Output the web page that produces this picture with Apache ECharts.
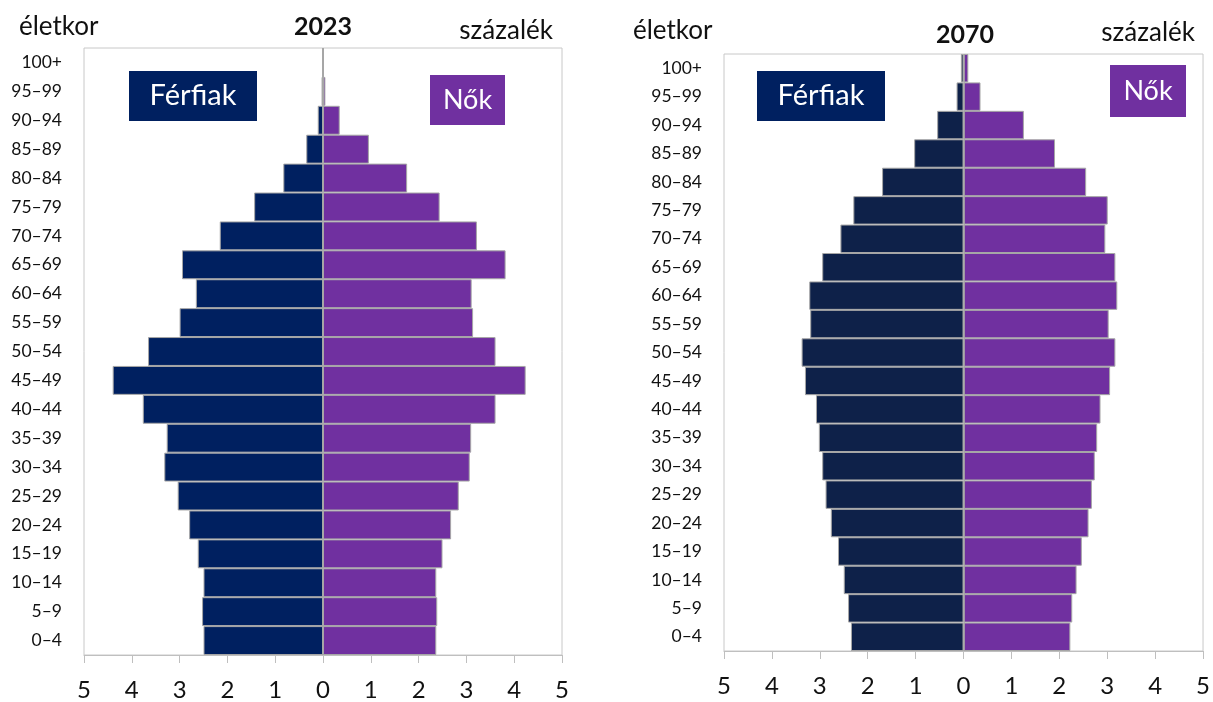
<!DOCTYPE html>
<html>
<head>
<meta charset="utf-8">
<script src="https://cdn.jsdelivr.net/npm/echarts@6/dist/echarts.min.js"></script>
<style>
html,body{margin:0;padding:0;background:#fff;}
#c{width:1213px;height:702px;}
</style>
</head>
<body>
<div id="c"></div>
<script>
const categories = ['0–4','5–9','10–14','15–19','20–24','25–29','30–34','35–39','40–44','45–49','50–54','55–59','60–64','65–69','70–74','75–79','80–84','85–89','90–94','95–99','100+'];
const men2023   = [2.50,2.53,2.50,2.62,2.80,3.04,3.32,3.27,3.77,4.40,3.66,3.00,2.66,2.95,2.16,1.44,0.83,0.35,0.11,0.03,0.005];
const women2023 = [2.37,2.39,2.37,2.50,2.68,2.84,3.07,3.10,3.61,4.24,3.61,3.14,3.11,3.82,3.22,2.44,1.76,0.96,0.35,0.05,0.01];
const men2070   = [2.35,2.41,2.50,2.62,2.77,2.88,2.95,3.02,3.08,3.31,3.38,3.20,3.22,2.95,2.57,2.30,1.70,1.03,0.55,0.145,0.055];
const women2070 = [2.23,2.27,2.36,2.47,2.61,2.68,2.74,2.79,2.86,3.06,3.17,3.03,3.21,3.17,2.96,3.01,2.56,1.91,1.26,0.355,0.10];
const xTicks = [-5,-4,-3,-2,-1,0,1,2,3,4,5];
const yearLabels = ['2023','2070'];
const axisTitle = 'életkor';
const unitTitle = 'százalék';
const legendMen = 'Férfiak';
const legendWomen = 'Nők';

const FONT = 'Lato, "Open Sans", sans-serif';
const chart = echarts.init(document.getElementById('c'), null, {renderer:'canvas'});

function xAxisCfg(gi){
  return {
    gridIndex: gi, type:'value', min: xTicks[0], max: xTicks[xTicks.length-1], interval: 1,
    axisLine:{show:true, onZero:false, lineStyle:{color:'#BFBFBF', width:1}},
    axisTick:{show:true, inside:false, length:8, lineStyle:{color:'#BFBFBF'}},
    splitLine:{show:false},
    axisLabel:{margin:23, fontSize:24, color:'#111', fontFamily:FONT, formatter: v => String(Math.abs(v))}
  };
}
function yAxisCfg(gi){
  return {
    gridIndex: gi, type:'category', data: categories,
    axisLine:{show:false}, axisTick:{show:false}, splitLine:{show:false},
    axisLabel:{margin:22, fontSize:17.5, color:'#111', fontFamily:FONT}
  };
}
const barBorder = {borderColor:'#A6A6A6', borderWidth:1};
function barSeries(gi, values, sign, color, withZero){
  const s = {
    type:'bar', xAxisIndex:gi, yAxisIndex:gi,
    data: values.map(v => sign*v),
    barCategoryGap:'0%', barGap:'-100%',
    itemStyle: Object.assign({color:color}, barBorder),
    silent:true, animation:false
  };
  if(withZero){
    s.markLine = {silent:true, symbol:'none', label:{show:false},
      lineStyle:{color:'#A6A6A6', width:1.5, type:'solid'},
      data:[{xAxis:0}]};
  }
  return s;
}

function legendBox(x,y,w,h,color,text,fs){
  return {type:'group', left:x, top:y, children:[
    {type:'rect', shape:{x:0,y:0,width:w,height:h}, style:{fill:color}},
    {type:'text', x:w/2, y:h/2, style:{text:text, fill:'#fff', fontSize:fs, fontFamily:FONT, textAlign:'center', textVerticalAlign:'middle'}}
  ]};
}
function txt(x,y,text,opts){
  return {type:'text', x:x, y:y, style:Object.assign({text:text, fill:'#111', fontSize:26, fontFamily:FONT, textVerticalAlign:'middle'}, opts||{})};
}

chart.setOption({
  animation:false,
  backgroundColor:'#fff',
  grid:[
    {left:84, right:651, top:48, bottom:47, show:true, borderColor:'#C8C8C8', borderWidth:1},
    {left:724, right:7, top:54, bottom:51, show:true, borderColor:'#C8C8C8', borderWidth:1}
  ],
  xAxis:[xAxisCfg(0), xAxisCfg(1)],
  yAxis:[yAxisCfg(0), yAxisCfg(1)],
  series:[
    barSeries(0, men2023, -1, '#002060', true),
    barSeries(0, women2023, 1, '#7030A0', false),
    barSeries(1, men2070, -1, '#0E2149', true),
    barSeries(1, women2070, 1, '#7030A0', false)
  ],
  graphic:[
    txt(19, 27, axisTitle),
    txt(323, 27, yearLabels[0], {fontWeight:'bold', textAlign:'center', fontSize:25}),
    txt(553, 31, unitTitle, {textAlign:'right'}),
    txt(633, 31, axisTitle),
    txt(965, 35, yearLabels[1], {fontWeight:'bold', textAlign:'center', fontSize:25}),
    txt(1195, 33, unitTitle, {textAlign:'right'}),
    legendBox(129, 71, 128, 50, '#002060', legendMen, 29),
    legendBox(430, 75, 75, 50, '#7030A0', legendWomen, 27),
    legendBox(757, 71, 128, 50, '#002060', legendMen, 29),
    legendBox(1110, 65, 76, 52, '#7030A0', legendWomen, 27)
  ]
});
</script>
</body>
</html>
